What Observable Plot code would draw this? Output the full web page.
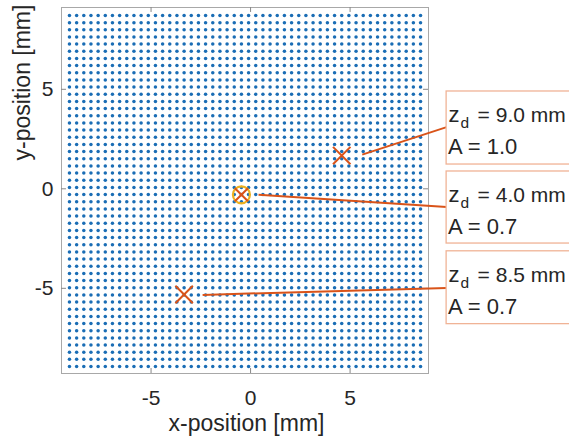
<!DOCTYPE html>
<html><head><meta charset="utf-8">
<script src="https://cdn.jsdelivr.net/npm/d3@7"></script>
<script src="https://cdn.jsdelivr.net/npm/@observablehq/plot@0.6"></script>
<style>body{margin:0;background:#fff}</style>
</head><body><div id="chart"></div>
<script>
// Axis ticks and limits (mm)
const xTicks = [-5, 0, 5];
const yTicks = [-5, 0, 5];
const xDomain = [-9.5, 8.94];
const yDomain = [-9.28, 9.11];

// Regular array of elements (50 x 50, pitch in mm)
const gridCount = 50;
const gridPitch = 0.36;
const gridX0 = -9.1;
const gridY0 = -8.93;

// Sources
const sourceX = [4.58, -0.46, -3.34];
const sourceY = [1.67, -0.3, -5.31];
const zdLabels = ["9.0", "4.0", "8.5"];
const ampLabels = ["1.0", "0.7", "0.7"];
const highlighted = [false, true, false];

// Callouts (mm)
const calloutStartX = [5.61, 0.4, -2.41];
const calloutStartY = [1.72, -0.3, -5.33];
const calloutEndY = [3.10, -0.92, -4.98];
const boxLeft = 9.85;
const boxRight = 16.1;
const boxTop = [4.89, 0.87, -3.14];
const boxBottom = [1.22, -2.75, -6.8];

const tickLen = 0.25;

const grid = [];
for (let i = 0; i < gridCount; i++)
  for (let j = 0; j < gridCount; j++)
    grid.push({x: gridX0 + i * gridPitch, y: gridY0 + j * gridPitch});

const sources = sourceX.map((x, i) => ({
  x, y: sourceY[i], zd: zdLabels[i], A: ampLabels[i], hl: highlighted[i],
  sx: calloutStartX[i], sy: calloutStartY[i], ex: boxLeft, ey: calloutEndY[i],
  bx1: boxLeft, bx2: boxRight, top: boxTop[i], bottom: boxBottom[i]
}));
const plainSources = sources.filter(d => !d.hl);
const hlSources = sources.filter(d => d.hl);

const red = "#D95319";
const txt = "#262626";

const chart = Plot.plot({
  width: 569, height: 442,
  marginLeft: 61, marginRight: 141, marginTop: 7, marginBottom: 69,
  x: {domain: xDomain},
  y: {domain: yDomain},
  style: {fontFamily: "'Liberation Sans', Arial, Helvetica, sans-serif", fontSize: "21px", color: txt, background: "white", overflow: "visible"},
  marks: [
    Plot.dot(grid, {x: "x", y: "y", r: 1.75, fill: "#1a6db5"}),
    Plot.frame({stroke: "#a8a8a8"}),
    Plot.ruleX(xTicks, {x: d => d, y1: yDomain[0], y2: yDomain[0] + tickLen, stroke: "#888"}),
    Plot.ruleX(xTicks, {x: d => d, y1: yDomain[1], y2: yDomain[1] - tickLen, stroke: "#888"}),
    Plot.ruleY(yTicks, {y: d => d, x1: xDomain[0], x2: xDomain[0] + tickLen, stroke: "#888"}),
    Plot.ruleY(yTicks, {y: d => d, x1: xDomain[1], x2: xDomain[1] - tickLen, stroke: "#888"}),
    Plot.axisX(xTicks, {tickSize: 0, tickPadding: 17, tickFormat: d => String(d), fontSize: 21, label: null}),
    Plot.axisY(yTicks, {tickSize: 0, tickPadding: 8, tickFormat: d => String(d), fontSize: 21, label: null}),
    Plot.text(["x-position [mm]"], {frameAnchor: "bottom", dx: 1.5, dy: 57, lineAnchor: "bottom", fontSize: 23, fill: txt}),
    Plot.text(["y-position [mm]"], {frameAnchor: "left", dx: -39, dy: -30, rotate: -90, lineAnchor: "middle", fontSize: 23, fill: txt}),
    // callout lines
    Plot.link(sources, {x1: "sx", y1: "sy", x2: "ex", y2: "ey", stroke: red, strokeWidth: 2}),
    // markers
    Plot.dot(hlSources, {x: "x", y: "y", r: 8.5, stroke: "#EDB120", strokeWidth: 2.2}),
    Plot.dot(hlSources, {x: "x", y: "y", symbol: "times", r: 6, stroke: red, strokeWidth: 2}),
    Plot.dot(plainSources, {x: "x", y: "y", symbol: "times", r: 8, stroke: red, strokeWidth: 2}),
    // boxes
    Plot.rect(sources, {x1: "bx1", x2: "bx2", y1: "bottom", y2: "top", fill: "white", stroke: "#f0b396", strokeWidth: 1.3}),
    Plot.text(sources, {x: "bx1", y: "top", text: () => "z", dx: 2, dy: 31, textAnchor: "start", lineAnchor: "bottom", fontSize: 22, fill: txt}),
    Plot.text(sources, {x: "bx1", y: "top", text: () => "d", dx: 14, dy: 37, textAnchor: "start", lineAnchor: "bottom", fontSize: 15.5, fill: txt}),
    Plot.text(sources, {x: "bx1", y: "top", text: d => `= ${d.zd} mm`, dx: 31, dy: 31, textAnchor: "start", lineAnchor: "bottom", fontSize: 21, fill: txt}),
    Plot.text(sources, {x: "bx1", y: "top", text: d => `A = ${d.A}`, dx: 1.5, dy: 63, textAnchor: "start", lineAnchor: "bottom", fontSize: 22, fill: txt})
  ]
});
document.getElementById("chart").append(chart);
</script>
</body></html>
